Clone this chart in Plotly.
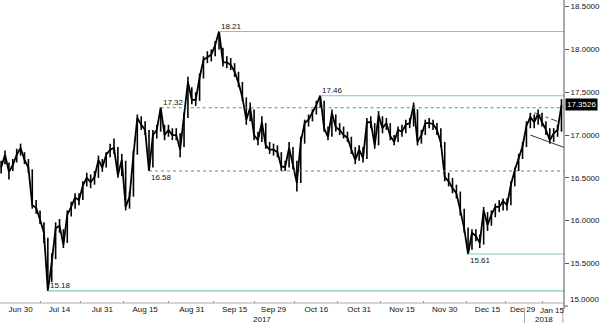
import pandas as pd
import plotly.graph_objects as go

# ---------------- data ----------------
holidays = ["2017-12-25", "2018-01-01"]
calendar = [d for d in pd.bdate_range("2017-06-22", "2018-01-16") if d.strftime("%Y-%m-%d") not in holidays]
pos = {d.strftime("%Y-%m-%d"): i for i, d in enumerate(calendar)}

closes = [
    16.62, 16.77, 16.57, 16.65, 16.77, 16.85, 16.71, 16.62, 16.18, 16.15,
    16.01, 15.86, 15.18, 15.51, 15.91, 15.94, 15.72, 16.07, 16.16, 16.27,
    16.24, 16.41, 16.50, 16.45, 16.51, 16.71, 16.62, 16.77, 16.83, 16.85,
    16.53, 16.71, 16.16, 16.28, 16.77, 17.20, 17.12, 17.06, 16.58, 17.00,
    17.06, 17.32, 17.00, 17.06, 17.00, 17.00, 16.83, 17.20, 17.62, 17.41,
    17.41, 17.67, 17.88, 17.91, 17.94, 18.05, 18.21, 17.85, 17.85, 17.82,
    17.74, 17.61, 17.44, 17.18, 17.32, 17.00, 16.94, 17.15, 16.88, 16.83,
    16.83, 16.80, 16.63, 16.63, 16.85, 16.65, 16.44, 16.92, 17.14, 17.18,
    17.26, 17.35, 17.46, 17.08, 16.98, 17.26, 17.09, 17.06, 17.00, 16.97,
    16.83, 16.71, 16.83, 16.73, 17.15, 17.15, 16.88, 17.23, 17.08, 17.14,
    16.99, 16.92, 17.06, 17.04, 17.12, 17.14, 17.35, 16.92, 17.00, 17.14,
    17.14, 17.13, 17.06, 16.91, 16.51, 16.46, 16.38, 16.32, 16.12, 15.91,
    15.61, 15.86, 15.82, 15.74, 16.12, 15.95, 16.07, 16.16, 16.16, 16.23,
    16.18, 16.42, 16.59, 16.73, 16.87, 17.11, 17.21, 17.15, 17.25, 17.15,
    17.06, 16.94, 17.02, 17.06, 17.35,
]
highs = [
    16.70, 16.82, 16.68, 16.72, 16.84, 16.90, 16.80, 16.72, 16.60, 16.24,
    16.12, 15.98, 15.80, 15.62, 15.98, 16.02, 15.90, 16.12, 16.22, 16.32,
    16.32, 16.46, 16.56, 16.54, 16.58, 16.76, 16.72, 16.80, 16.90, 16.96,
    16.86, 16.78, 16.70, 16.34, 16.82, 17.24, 17.22, 17.16, 17.06, 17.06,
    17.12, 17.32, 17.12, 17.12, 17.08, 17.08, 17.02, 17.26, 17.68, 17.56,
    17.50, 17.72, 17.92, 17.98, 18.00, 18.10, 18.21, 18.02, 17.92, 17.90,
    17.84, 17.74, 17.62, 17.44, 17.38, 17.30, 17.04, 17.22, 17.14, 16.92,
    16.90, 16.88, 16.80, 16.70, 16.92, 16.86, 16.70, 16.98, 17.18, 17.24,
    17.30, 17.40, 17.46, 17.40, 17.10, 17.30, 17.24, 17.14, 17.10, 17.04,
    16.98, 16.86, 16.88, 16.86, 17.20, 17.22, 17.14, 17.28, 17.22, 17.20,
    17.14, 17.00, 17.10, 17.12, 17.18, 17.20, 17.38, 17.30, 17.06, 17.18,
    17.20, 17.18, 17.14, 17.08, 16.92, 16.56, 16.50, 16.42, 16.34, 16.14,
    15.92, 15.90, 15.90, 15.84, 16.16, 16.10, 16.12, 16.20, 16.24, 16.26,
    16.26, 16.46, 16.62, 16.78, 16.92, 17.16, 17.26, 17.24, 17.30, 17.26,
    17.16, 17.08, 17.08, 17.12, 17.42,
]
lows = [
    16.55, 16.66, 16.48, 16.58, 16.68, 16.76, 16.66, 16.56, 16.14, 16.08,
    15.96, 15.74, 15.18, 15.28, 15.55, 15.86, 15.68, 15.74, 16.05, 16.14,
    16.18, 16.24, 16.40, 16.38, 16.42, 16.50, 16.57, 16.62, 16.74, 16.78,
    16.50, 16.52, 16.12, 16.14, 16.28, 16.77, 17.06, 17.00, 16.58, 16.62,
    16.96, 17.04, 16.94, 16.98, 16.94, 16.94, 16.74, 16.86, 17.20, 17.36,
    17.34, 17.40, 17.66, 17.84, 17.86, 17.92, 18.00, 17.80, 17.78, 17.76,
    17.68, 17.56, 17.40, 17.12, 17.16, 16.94, 16.88, 16.92, 16.84, 16.78,
    16.76, 16.74, 16.58, 16.58, 16.62, 16.60, 16.34, 16.44, 16.90, 17.10,
    17.16, 17.24, 17.32, 17.04, 16.94, 16.98, 17.04, 17.00, 16.96, 16.92,
    16.78, 16.66, 16.70, 16.68, 16.72, 17.08, 16.84, 16.88, 17.02, 17.06,
    16.94, 16.88, 16.92, 16.98, 17.02, 17.08, 17.10, 16.88, 16.90, 17.00,
    17.08, 17.06, 17.00, 16.86, 16.46, 16.40, 16.32, 16.26, 16.06, 15.86,
    15.61, 15.66, 15.76, 15.68, 15.72, 15.88, 15.94, 16.04, 16.10, 16.12,
    16.12, 16.18, 16.40, 16.58, 16.72, 16.86, 17.08, 17.08, 17.12, 17.10,
    17.00, 16.90, 16.92, 16.98, 17.04,
]
price_dates = [d.strftime("%Y-%m-%d") for d in calendar[1:1 + len(closes)]]

tick_dates = ["2017-06-30", "2017-07-14", "2017-07-31", "2017-08-15", "2017-08-31",
              "2017-09-15", "2017-09-29", "2017-10-16", "2017-10-31", "2017-11-15",
              "2017-11-30", "2017-12-15", "2017-12-29"]
tick_labels = ["Jun 30", "Jul 14", "Jul 31", "Aug 15", "Aug 31", "Sep 15", "Sep 29",
               "Oct 16", "Oct 31", "Nov 15", "Nov 30", "Dec 15", "Dec 29"]
last_tick_label = "Jan 15"
last_tick_date = "2018-01-15"

y_ticks = [15.5, 16.0, 16.5, 17.0, 17.5, 18.0, 18.5]

level_values = [18.21, 17.46, 17.32, 16.58, 15.61, 15.18]
level_dates = ["2017-09-11", "2017-10-17", "2017-08-21", "2017-08-16", "2017-12-08", "2017-07-11"]
level_dashed = [False, False, True, True, False, False]
level_label_above = [True, True, True, False, False, True]

last_price = 17.3526

# trend lines (start date, start value, end date, end value)
trend_solid = ("2018-01-03", 17.00, "2018-01-16", 16.85)
trend_dash = ("2018-01-04", 17.26, "2018-01-12", 17.16)

# ---------------- figure ----------------
x = [pos[d] for d in price_dates]
XMIN, XMAX = 0.706, 145.65
YMIN, YMAX = 15.038, 18.578

seg_x, seg_y = [], []
for xi, h, l in zip(x, highs, lows):
    seg_x += [xi, xi, None]
    seg_y += [h, l, None]

fig = go.Figure()
fig.add_trace(go.Scatter(x=seg_x, y=seg_y, mode="lines",
                         line=dict(color="black", width=1.6), hoverinfo="skip"))
fig.add_trace(go.Scatter(x=x, y=closes, mode="lines",
                         line=dict(color="black", width=1.8), hoverinfo="skip"))

FONT = "Liberation Sans Narrow, Liberation Sans, Arial, sans-serif"
shapes = []
annotations = []
for v, d, dashed, above in zip(level_values, level_dates, level_dashed, level_label_above):
    shapes.append(dict(type="line", xref="x", yref="y", x0=pos[d], x1=XMAX, y0=v, y1=v,
                       line=dict(color="#3e9c84" if dashed else "#7fcbb5", width=1.1,
                                 dash="3px,3px" if dashed else "solid")))
    annotations.append(dict(x=pos[d], y=v, xref="x", yref="y", text=f"{v:.2f}",
                            showarrow=False, xanchor="left",
                            yanchor="bottom" if above else "top",
                            yshift=-1 if above else 0,
                            font=dict(family=FONT, size=8, color="#111")))

shapes.append(dict(type="line", xref="x", yref="y",
                   x0=pos[trend_solid[0]], y0=trend_solid[1], x1=pos[trend_solid[2]], y1=trend_solid[3],
                   line=dict(color="#333", width=1)))
shapes.append(dict(type="line", xref="x", yref="y",
                   x0=pos[trend_dash[0]], y0=trend_dash[1], x1=pos[trend_dash[2]], y1=trend_dash[3],
                   line=dict(color="#444", width=1, dash="dashdot")))

# axes lines
shapes.append(dict(type="line", xref="paper", yref="paper", x0=0, x1=1, y0=0, y1=0,
                   line=dict(color="#aaaaaa", width=1)))
shapes.append(dict(type="line", xref="paper", yref="paper", x0=1, x1=1, y0=-0.02, y1=1,
                   line=dict(color="#555", width=1)))
# 15.0000 tick below plot area
shapes.append(dict(type="line", xref="paper", yref="paper", x0=1, x1=1.007, y0=-0.01, y1=-0.01,
                   line=dict(color="#555", width=1)))
annotations.append(dict(x=1, xref="paper", y=-0.01, yref="paper", text="15.0000",
                        showarrow=False, xanchor="left", xshift=4,
                        font=dict(family=FONT, size=8, color="#111")))
# year separators and labels
for sx in [135.5, XMAX - 0.3]:
    shapes.append(dict(type="line", xref="x", yref="paper", x0=sx, x1=sx, y0=-0.015, y1=-0.066,
                       line=dict(color="#aaaaaa", width=1)))
annotations.append(dict(x=(XMIN + 135.5) / 2, xref="x", y=-0.055, yref="paper", text="2017",
                        showarrow=False, yanchor="middle", font=dict(family=FONT, size=8, color="#111")))
annotations.append(dict(x=(135.5 + XMAX) / 2, xref="x", y=-0.055, yref="paper", text="2018",
                        showarrow=False, yanchor="middle", font=dict(family=FONT, size=8, color="#111")))
# Jan 15 label shifted left to fit
annotations.append(dict(x=pos[last_tick_date], xref="x", y=0, yref="paper", text=last_tick_label,
                        showarrow=False, yanchor="top", xshift=-9, yshift=-1,
                        font=dict(family=FONT, size=8, color="#111")))
# last price box
annotations.append(dict(x=1, xref="paper", y=last_price, yref="y", text=f"{last_price:.4f}",
                        showarrow=False, xanchor="left", xshift=1, bgcolor="black",
                        borderpad=1, font=dict(family=FONT, size=8, color="white")))

tickvals = [pos[d] for d in tick_dates]
minor_vals = [(a + b) / 2 for a, b in zip(tickvals[:-1], tickvals[1:])] + [(tickvals[-1] + pos[last_tick_date]) / 2]

fig.update_layout(
    width=600, height=323,
    margin=dict(l=0, r=25, t=0, b=20),
    paper_bgcolor="white", plot_bgcolor="white",
    showlegend=False,
    shapes=shapes, annotations=annotations,
    xaxis=dict(range=[XMIN, XMAX], tickmode="array", tickvals=tickvals, ticktext=tick_labels,
               showgrid=False, zeroline=False, showline=False, ticks="", ticklen=0,
               tickfont=dict(family=FONT, size=8, color="#111"),
               minor=dict(tickmode="array", tickvals=minor_vals, ticks="inside", ticklen=2,
                          tickcolor="#888", showgrid=False)),
    yaxis=dict(range=[YMIN, YMAX], side="right", tickmode="array", tickvals=y_ticks,
               ticktext=[f"{v:.4f}" for v in y_ticks], showgrid=False, zeroline=False,
               showline=False, ticks="outside", ticklen=4, tickcolor="#555",
               tickfont=dict(family=FONT, size=8, color="#111")),
)

fig.write_html("out.html")
